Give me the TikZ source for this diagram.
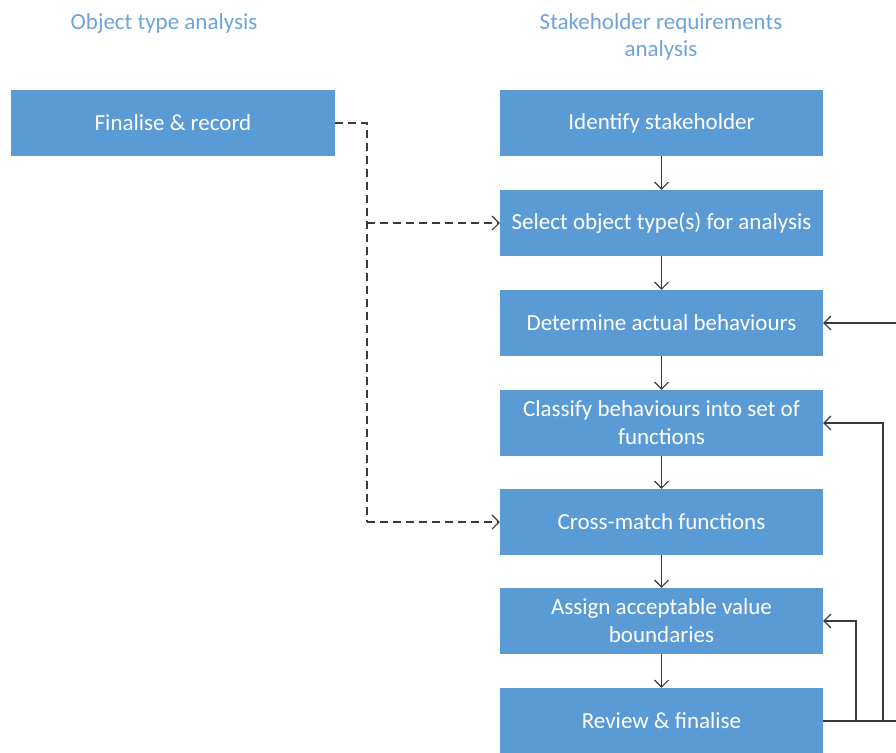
\documentclass[tikz,border=0pt]{standalone}
\usepackage{fontspec}
\setmainfont{Carlito}
\usetikzlibrary{arrows.meta}
\definecolor{boxblue}{HTML}{5B9BD5}
\definecolor{titleblue}{HTML}{6FA3DB}
\definecolor{linegray}{HTML}{3A3A3A}
\tikzset{
  stepbox/.style={draw=none, fill=boxblue, minimum width=323pt, minimum height=66pt,
    text=white, align=center, inner sep=0pt,
    font=\fontsize{23}{28}\selectfont},
  title/.style={text=titleblue, align=center, font=\fontsize{23}{27}\selectfont},
  link/.style={draw=linegray, line width=1.2pt, -{Straight Barb[length=7pt,width=14pt,line width=1.1pt]}},
  plain/.style={draw=linegray, line width=1.2pt},
  dlink/.style={link, dash pattern=on 8pt off 5pt},
  dplain/.style={plain, dash pattern=on 8pt off 5pt}
}
\begin{document}
\begin{tikzpicture}[x=1pt, y=-1pt]
\useasboundingbox (0,0) rectangle (896,752);
\begin{scope}
\clip (0,0) rectangle (896,752);

% column headings
\node[title] (t1) at (164,23.5) {Object type analysis};
\node[title] (t2) at (661,36.5) {Stakeholder requirements\\analysis};

% object type column
\node[stepbox, minimum width=324pt] (fr) at (173,123) {Finalise \& record};

% stakeholder column
\node[stepbox] (s1) at (661.5,123) {Identify stakeholder};
\node[stepbox] (s2) at (661.5,223) {Select object type(s) for analysis};
\node[stepbox] (s3) at (661.5,323) {Determine actual behaviours};
\node[stepbox] (s4) at (661.5,423) {Classify behaviours into set of\\functions};
\node[stepbox] (s5) at (661.5,522) {Cross-match functions};
\node[stepbox] (s6) at (661.5,621) {Assign acceptable value\\boundaries};
\node[stepbox] (s7) at (661.5,721) {Review \& finalise};

% main sequence
\foreach \a/\b in {s1/s2, s2/s3, s3/s4, s4/s5, s5/s6, s6/s7}
  \draw[link] (\a.south) -- (\b.north);

% dashed hand-over from the object type column
\coordinate (dj) at (367,123);
\coordinate (db) at (367,522);
\draw[dplain] (fr.east) -- (dj) -- (db);
\draw[dlink] (367,223) -- (s2.west);
\draw[dlink] (db) -- (s5.west);

% feedback loops from the review step
\coordinate (rout) at (896,721);
\coordinate (rin) at (896,323);
\draw[plain] (s7.east) -- (rout);
\draw[link] (856,721) |- (s6.east);
\draw[link] (883,721) |- (s4.east);
\draw[link] (rin) -- (s3.east);
\end{scope}
\end{tikzpicture}
\end{document}
